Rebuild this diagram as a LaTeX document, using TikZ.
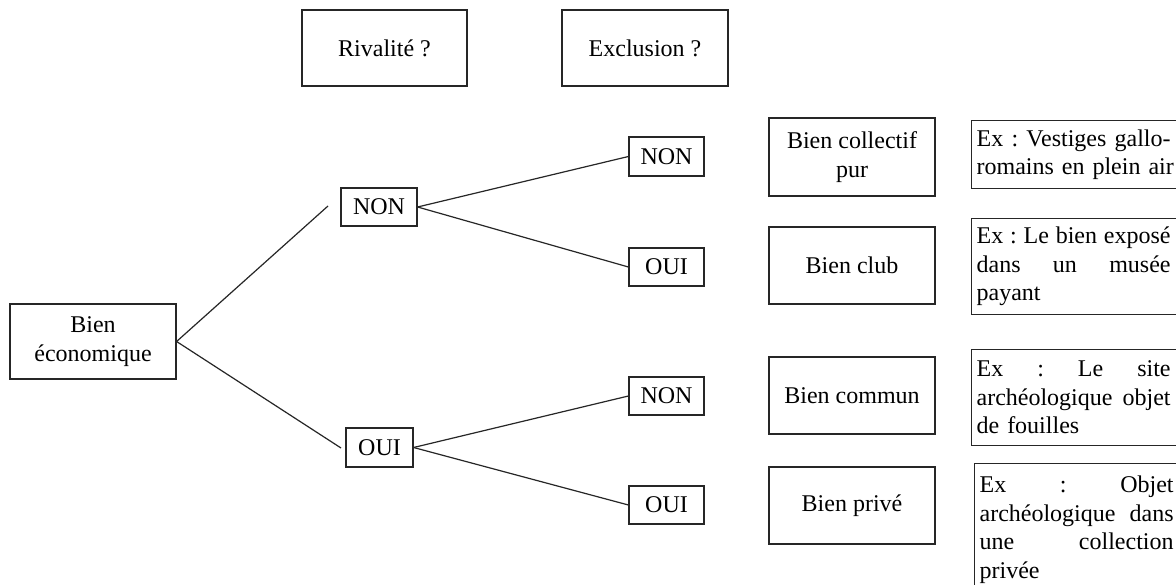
\documentclass[tikz,border=0pt]{standalone}
\usepackage{fontspec}
\setmainfont{Liberation Serif}
\frenchspacing
\newcommand{\jl}[1]{\leavevmode\hbox to 194pt{#1}}
\begin{document}
\begin{tikzpicture}[x=1pt,y=-1pt,
  box/.style={draw=black!85, line width=1.2pt, rectangle, inner sep=0pt, align=center,
    font=\fontsize{24}{28.5}\selectfont},
  exbox/.style={draw=black!85, line width=1.2pt, rectangle, inner ysep=0pt, inner xsep=5pt,
    anchor=north west, text width=216pt, align=left, font=\fontsize{24}{28.5}\selectfont},
  link/.style={draw=black!85, line width=1.2pt}]
\clip (0,0) rectangle (1176,585);
\fill[white] (0,0) rectangle (1176,585);
% headers
\node[box, minimum width=165pt, minimum height=76pt] (riv) at (384.5,48) {Rivalité ?};
\node[box, minimum width=166pt, minimum height=76pt] (exc) at (645,48) {Exclusion ?};
% root
\node[box, minimum width=166pt, minimum height=75pt] (root) at (93,341.5) {Bien\\économique};
% level 1
\node[box, minimum width=76pt, minimum height=38pt] (non1) at (379,207) {NON};
\node[box, minimum width=67pt, minimum height=39pt] (oui1) at (379.5,447.5) {OUI};
\coordinate (c1) at (328,206);
\coordinate (c2) at (341,448);
% level 2
\node[box, minimum width=75pt, minimum height=39pt] (nonA) at (666.5,156.5) {NON};
\node[box, minimum width=75pt, minimum height=38pt] (ouiA) at (666.5,267) {OUI};
\node[box, minimum width=75pt, minimum height=38pt] (nonB) at (666.5,396) {NON};
\node[box, minimum width=75pt, minimum height=38pt] (ouiB) at (666.5,505) {OUI};
% categories
\node[box, minimum width=166pt, minimum height=78pt] (col) at (852,157) {Bien collectif\\pur};
\node[box, minimum width=166pt, minimum height=77pt] (club) at (852,265.5) {Bien club};
\node[box, minimum width=166pt, minimum height=77pt] (com) at (852,395.5) {Bien commun};
\node[box, minimum width=166pt, minimum height=77pt] (priv) at (852,505.5) {Bien privé};
% examples
\node[exbox, minimum height=68pt] (ex1) at (971,120)
  {\jl{Ex\hfill:\hfill Vestiges\hfill gallo-}\\romains en plein air};
\node[exbox, minimum height=96pt] (ex2) at (971,218)
  {\jl{Ex\hfill:\hfill Le\hfill bien\hfill exposé}\\\jl{dans\hfill un\hfill musée}\\payant};
\node[exbox, minimum height=96pt] (ex3) at (971,349)
  {\jl{Ex\hfill:\hfill Le\hfill site}\\\jl{archéologique\hfill objet}\\de fouilles};
\node[exbox, minimum height=132pt] (ex4) at (974,463)
  {\jl{Ex\hfill:\hfill Objet}\\\jl{archéologique\hfill dans}\\\jl{une\hfill collection}\\privée};
% connectors
\draw[link] (root.east) -- (c1);
\draw[link] (root.east) -- (c2);
\draw[link] (non1.east) -- (nonA.west);
\draw[link] (non1.east) -- (ouiA.west);
\draw[link] (oui1.east) -- (nonB.west);
\draw[link] (oui1.east) -- (ouiB.west);
\end{tikzpicture}
\end{document}
